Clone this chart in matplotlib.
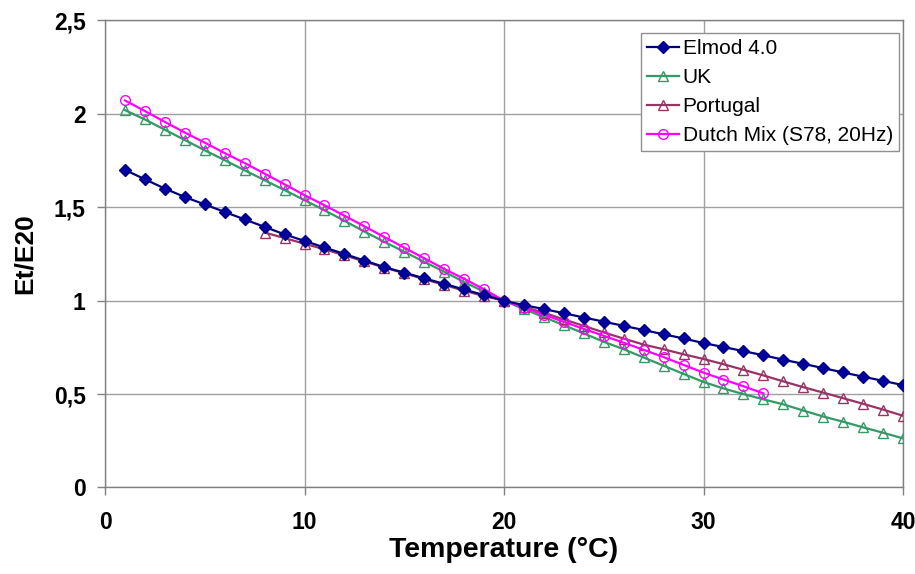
import matplotlib
matplotlib.use("Agg")
import matplotlib.pyplot as plt

plt.rcParams['font.family'] = ['Liberation Sans', 'DejaVu Sans']

# temperature steps (deg C) for each series
temps_elmod = list(range(1, 41))
temps_uk = list(range(1, 41))
temps_portugal = list(range(8, 41))
temps_dutch = list(range(1, 34))

# modulus ratio Et/E20
elmod = [1.70, 1.65, 1.60, 1.555, 1.515, 1.475, 1.435, 1.395, 1.355, 1.32,
         1.285, 1.25, 1.215, 1.18, 1.15, 1.12, 1.09, 1.06, 1.03, 1.00,
         0.976, 0.955, 0.933, 0.91, 0.888, 0.865, 0.843, 0.82, 0.798, 0.773,
         0.752, 0.73, 0.708, 0.684, 0.662, 0.639, 0.616, 0.593, 0.571, 0.548]
uk = [2.02, 1.97, 1.915, 1.86, 1.805, 1.752, 1.698, 1.645, 1.592, 1.538,
      1.484, 1.428, 1.37, 1.315, 1.262, 1.208, 1.155, 1.10, 1.048, 1.00,
      0.955, 0.912, 0.869, 0.825, 0.78, 0.74, 0.696, 0.652, 0.608, 0.565,
      0.53, 0.50, 0.472, 0.445, 0.412, 0.38, 0.352, 0.322, 0.293, 0.263]
portugal = [1.365, 1.335, 1.305, 1.275, 1.243, 1.21, 1.177, 1.147, 1.115, 1.085,
            1.053, 1.025, 1.00,
            0.967, 0.935, 0.90, 0.865, 0.83, 0.797, 0.765, 0.74, 0.713, 0.688,
            0.66, 0.63, 0.60, 0.568, 0.537, 0.508, 0.478, 0.448, 0.417, 0.384]
dutch = [2.072, 2.015, 1.957, 1.90, 1.846, 1.79, 1.737, 1.68, 1.623, 1.565,
         1.511, 1.455, 1.398, 1.341, 1.284, 1.227, 1.17, 1.117, 1.061, 1.00,
         0.963, 0.925, 0.887, 0.849, 0.812, 0.775, 0.737, 0.698, 0.656, 0.615,
         0.578, 0.542, 0.504]

labels = ['Elmod 4.0', 'UK', 'Portugal', 'Dutch Mix (S78, 20Hz)']
xticks = [0, 10, 20, 30, 40]
yticks = [0, 0.5, 1, 1.5, 2, 2.5]
ytick_labels = ['0', '0,5', '1', '1,5', '2', '2,5']

fig = plt.figure(figsize=(9.15, 5.74), dpi=100)
ax = fig.add_axes([0.1148, 0.1507, 0.8721, 0.8136])

ax.plot(temps_elmod, elmod, color='#000080', lw=1.6, marker='D', ms=6.5,
        mfc='#0000a0', mec='#000080', label=labels[0], zorder=5)
ax.plot(temps_uk, uk, color='#339966', lw=1.6, marker='^', ms=7,
        mfc='none', mec='#339966', mew=1.0, label=labels[1], zorder=3)
ax.plot(temps_portugal, portugal, color='#993366', lw=1.6, marker='^', ms=7,
        mfc='none', mec='#993366', mew=1.0, label=labels[2], zorder=4)
ax.plot(temps_dutch, dutch, color='#ff00ff', lw=1.6, marker='o', ms=7,
        mfc='none', mec='#ff00ff', mew=1.0, label=labels[3], zorder=4)

ax.set_xlim(0, 40)
ax.set_ylim(0, 2.5)
ax.set_xticks(xticks)
ax.set_yticks(yticks)
ax.set_yticklabels(ytick_labels)
ax.grid(True, color='#a0a0a0', lw=1)
ax.set_axisbelow(True)
for sp in ax.spines.values():
    sp.set_color('#808080')
    sp.set_linewidth(1)
ax.tick_params(direction='out', length=6, color='#808080', width=1,
               labelsize=16.5, pad=8)
ax.tick_params(axis='x', pad=11)
for t in ax.get_xticklabels() + ax.get_yticklabels():
    t.set_fontweight('bold')

ax.set_xlabel('Temperature (°C)', fontsize=20.5, fontweight='bold', labelpad=2)
ax.set_ylabel('Et/E20', fontsize=19, fontweight='bold', labelpad=12)

leg = ax.legend(loc='upper right', bbox_to_anchor=(0.995, 0.974), fontsize=15,
                frameon=True, fancybox=False, framealpha=1, edgecolor='#909090',
                handlelength=1.55, handletextpad=0.15, labelspacing=0.48,
                borderpad=0.3, borderaxespad=0)
leg.get_frame().set_linewidth(1)

fig.savefig('out.png', dpi=100)
